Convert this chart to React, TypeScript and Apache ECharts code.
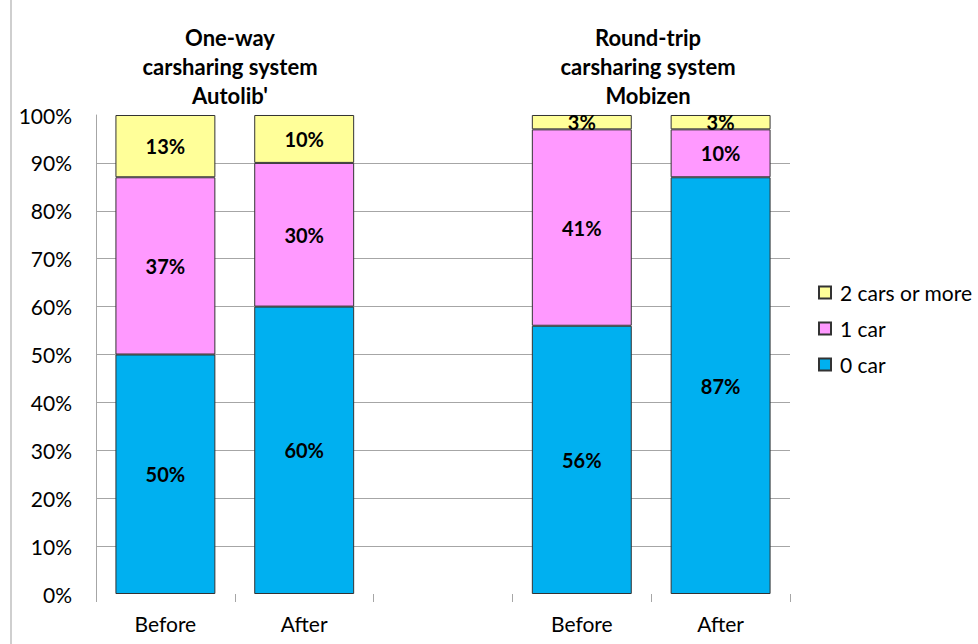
import React, { useEffect, useRef } from "react";
import * as echarts from "echarts";

const categories = ["Before", "After", "", "Before", "After"];
const zeroCar = [50, 60, null, 56, 87];
const oneCar = [37, 30, null, 41, 10];
const twoCars = [13, 10, null, 3, 3];
const seriesNames = ["0 car", "1 car", "2 cars or more"];
const colors = ["#00B0F0", "#FF99FF", "#FFFF99"];
const titleLeft = "One-way\ncarsharing system\nAutolib'";
const titleRight = "Round-trip\ncarsharing system\nMobizen";

const FONT = "Lato, 'Open Sans', sans-serif";

export default function App() {
  const ref = useRef<HTMLDivElement>(null);
  useEffect(() => {
    if (!ref.current) return;
    const chart = echarts.init(ref.current, undefined, { renderer: "svg" });
    const values = [zeroCar, oneCar, twoCars];
    chart.setOption({
      animation: false,
      backgroundColor: "#ffffff",
      textStyle: { fontFamily: FONT },
      grid: { left: 96, right: 188, top: 115, bottom: 50 },
      legend: {
        orient: "vertical",
        left: 813,
        top: 277,
        itemWidth: 12,
        itemHeight: 12,
        itemGap: 15,
        icon: "rect",
        data: ["2 cars or more", "1 car", "0 car"],
        textStyle: { fontSize: 21, color: "#000", fontFamily: FONT, padding: [0, 0, 0, 4] },
      },
      graphic: [
        {
          type: "line",
          shape: { x1: 11, y1: 0, x2: 11, y2: 644 },
          style: { stroke: "#bfbfbf", lineWidth: 1.5 },
        },
        {
          type: "text",
          x: 230,
          y: 23,
          style: {
            text: titleLeft,
            textAlign: "center",
            fontSize: 22,
            fontWeight: "bold",
            fontFamily: FONT,
            lineHeight: 29,
            fill: "#000",
          },
        },
        {
          type: "text",
          x: 648,
          y: 23,
          style: {
            text: titleRight,
            textAlign: "center",
            fontSize: 22,
            fontWeight: "bold",
            fontFamily: FONT,
            lineHeight: 29,
            fill: "#000",
          },
        },
      ],
      xAxis: {
        type: "category",
        data: categories,
        axisLine: { show: false },
        axisTick: { show: true, length: 8, lineStyle: { color: "#a6a6a6" } },
        axisLabel: { fontSize: 21, color: "#000", margin: 19, fontFamily: FONT },
      },
      yAxis: {
        type: "value",
        min: 0,
        max: 100,
        interval: 10,
        axisLine: { show: true, lineStyle: { color: "#a6a6a6" } },
        axisTick: { show: false },
        axisLabel: {
          fontSize: 21,
          color: "#000",
          margin: 24,
          fontFamily: FONT,
          formatter: "{value}%",
        },
        splitLine: {
          show: true,
          showMinLine: false,
          showMaxLine: false,
          lineStyle: { color: "#a6a6a6", width: 1 },
        },
      },
      series: seriesNames.map((name, i) => ({
        name,
        type: "bar",
        stack: "total",
        barWidth: "72%",
        data: values[i],
        itemStyle: { color: colors[i], borderColor: "#333", borderWidth: 1 },
        label: {
          show: true,
          position: "inside",
          formatter: "{c}%",
          fontSize: 20,
          fontWeight: "bold",
          color: "#000",
          fontFamily: FONT,
        },
      })),
    });
    return () => chart.dispose();
  }, []);
  return <div ref={ref} style={{ width: 978, height: 644, position: "absolute", left: 0, top: 0 }} />;
}
